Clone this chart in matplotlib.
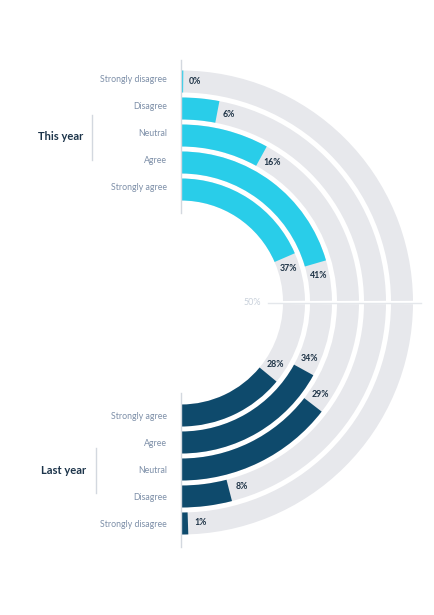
import numpy as np
import matplotlib
matplotlib.use('Agg')
import matplotlib.pyplot as plt

# data
categories = ['Strongly disagree', 'Disagree', 'Neutral', 'Agree', 'Strongly agree']
this_year = [0, 6, 16, 41, 37]
last_year = [1, 8, 29, 34, 28]
group_labels = ['This year', 'Last year']
scale_max = 50   # a quarter circle is 50%

plt.rcParams['font.family'] = ['Lato', 'DejaVu Sans']

W, H = 434, 615
cx, cy = 181, 302.5
rmax = 245
ring_w = 22
ring_in = [210, 183, 156, 129, 102]   # per category, outer -> inner

c_top = '#29CDE9'
c_bot = '#0E4A6C'
c_bg = '#E7E8EC'
c_cat = '#7D8FA8'
c_val = '#1E3346'

fig = plt.figure(figsize=(W / 100, H / 100), dpi=100)

ax = fig.add_axes([(cx - rmax) / W, (H - cy - rmax) / H, 2 * rmax / W, 2 * rmax / H],
                  projection='polar')
ax.set_theta_zero_location('N')
ax.set_theta_direction(-1)
ax.set_ylim(0, rmax)
ax.set_axis_off()


def to_theta(v):
    return v / scale_max * np.pi / 2


# 50% line
ax.plot([np.pi / 2, np.pi / 2], [87, 240], color='#E4E7EB', lw=1, zorder=0)

for i, r0 in enumerate(ring_in):
    rc = r0 + ring_w / 2
    gap = 1.6 / rc
    # background quarters
    ax.bar(0, ring_w, width=np.pi / 2 - gap, bottom=r0, align='edge',
           color=c_bg, linewidth=0, zorder=1)
    ax.bar(np.pi / 2 + gap, ring_w, width=np.pi / 2 - gap, bottom=r0, align='edge',
           color=c_bg, linewidth=0, zorder=1)

    # this year: clockwise from the top
    t = max(to_theta(this_year[i]), 2.2 / rc)
    ax.bar(0, ring_w, width=t, bottom=r0, align='edge', color=c_top,
           linewidth=0, zorder=2)
    ax.text(t + 12 / rc, rc, '%d%%' % this_year[i], ha='center', va='center',
            fontsize=6.3, fontweight='bold', color=c_val, zorder=3)

    # last year: counter-clockwise from the bottom
    t = max(to_theta(last_year[i]), 2.2 / rc)
    ax.bar(np.pi - t, ring_w, width=t, bottom=r0, align='edge', color=c_bot,
           linewidth=0, zorder=2)
    ax.text(np.pi - t - 13 / rc, rc, '%d%%' % last_year[i], ha='center', va='center',
            fontsize=6.3, fontweight='bold', color=c_val, zorder=3)

ax.text(np.pi / 2, 80, '50%', ha='right', va='center', fontsize=6.5, color='#C9D1DB')

# overlay in pixel coordinates for the left-hand labels
ov = fig.add_axes([0, 0, 1, 1])
ov.set_xlim(0, W)
ov.set_ylim(H, 0)
ov.set_axis_off()
ov.patch.set_alpha(0)

for i, r0 in enumerate(ring_in):
    rc = r0 + ring_w / 2
    ov.text(167, cy - rc - 2, categories[i], ha='right', va='center',
            fontsize=6.3, color=c_cat)
    ov.text(167, cy + rc + 1, categories[i], ha='right', va='center',
            fontsize=6.3, color=c_cat)

ov.plot([181, 181], [60, 213], color='#D3D8DF', lw=1)
ov.plot([181, 181], [393, 547], color='#D3D8DF', lw=1)
ov.plot([92, 92], [115, 160], color='#D3D8DF', lw=1)
ov.plot([95.5, 95.5], [448, 493], color='#D3D8DF', lw=1)

ov.text(83, 137, group_labels[0], ha='right', va='center', fontsize=8,
        fontweight='bold', color='#1C344A')
ov.text(86, 470, group_labels[1], ha='right', va='center', fontsize=8,
        fontweight='bold', color='#1C344A')

fig.savefig('out.png', dpi=100)
